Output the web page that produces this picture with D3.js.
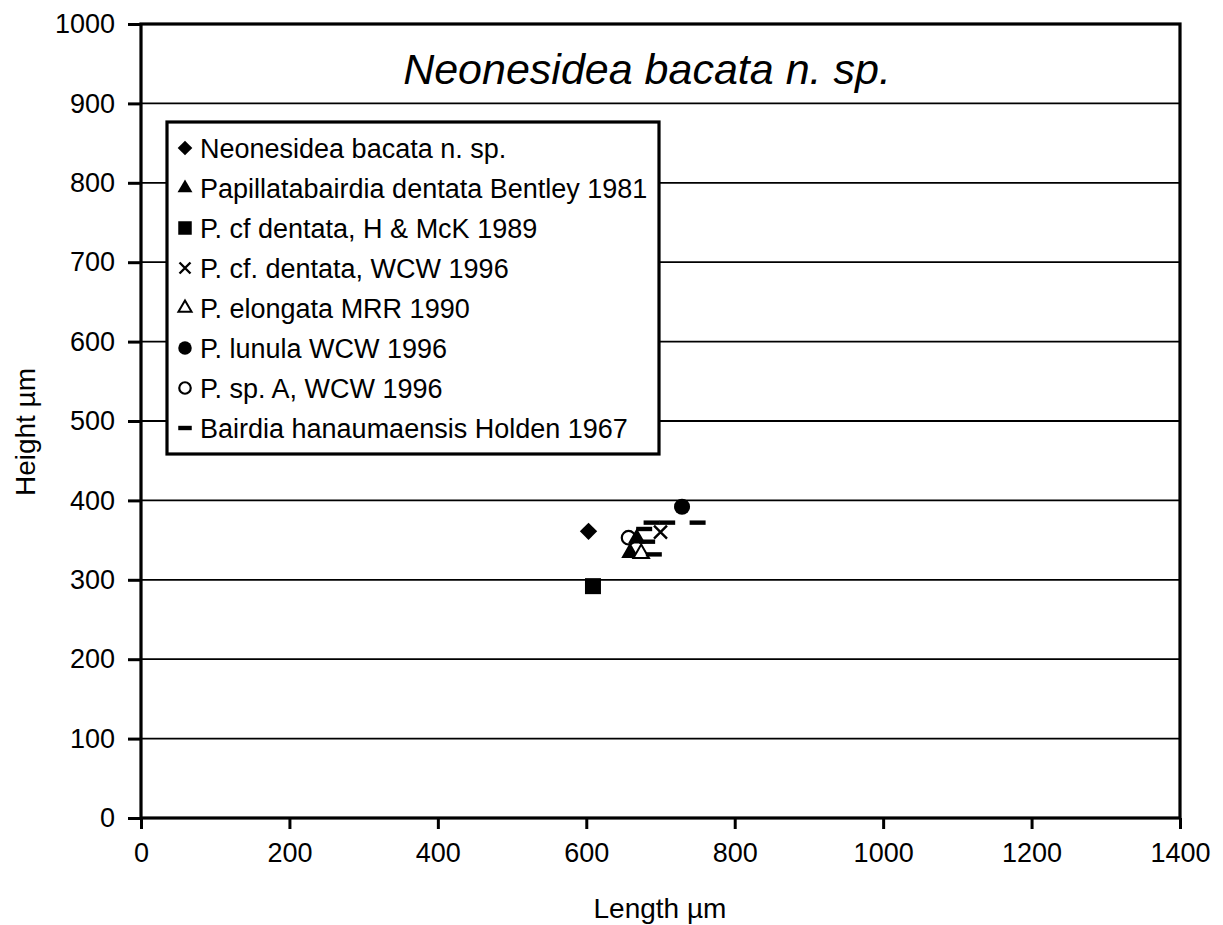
<!DOCTYPE html>
<html>
<head>
<meta charset="utf-8">
<script src="https://cdn.jsdelivr.net/npm/d3@7"></script>
<style>
  html, body { margin: 0; padding: 0; background: #fff; }
  svg { display: block; font-family: "Liberation Sans", Arial, sans-serif; }
</style>
</head>
<body>
<svg id="chart" width="1223" height="925"></svg>
<script>
// Length / height measurements (µm) of each taxon
const neonesidea       = [[603, 361]];
const papillatabairdia = [[668, 352], [659, 334]];
const cfDentataHMcK    = [[609, 292]];
const cfDentataWCW     = [[700, 360]];
const elongata         = [[674, 333]];
const lunula           = [[729, 392]];
const spA              = [[657, 353]];
const hanaumaensis     = [[688, 372], [709, 372], [750, 372], [678, 364], [682, 348], [691, 332]];

const seriesNames = [
  "Neonesidea bacata n. sp.",
  "Papillatabairdia dentata Bentley 1981",
  "P. cf dentata, H & McK 1989",
  "P. cf. dentata, WCW 1996",
  "P. elongata MRR 1990",
  "P. lunula WCW 1996",
  "P. sp. A, WCW 1996",
  "Bairdia hanaumaensis Holden 1967"
];
const seriesMarkers = ["diamond", "triangle", "square", "cross", "triangleOpen", "circle", "circleOpen", "dash"];
const seriesData = [neonesidea, papillatabairdia, cfDentataHMcK, cfDentataWCW, elongata, lunula, spA, hanaumaensis];

const xTicks = [0, 200, 400, 600, 800, 1000, 1200, 1400];
const yTicks = [0, 100, 200, 300, 400, 500, 600, 700, 800, 900, 1000];

const titleText = "Neonesidea bacata n. sp.";
const xLabel = "Length \u00b5m";
const yLabel = "Height \u00b5m";

// ---- layout ----
const plot = { left: 141, right: 1180, top: 24, bottom: 818 };
const svg = d3.select("#chart");

const x = d3.scaleLinear().domain([0, 1400]).range([plot.left, plot.right]);
const y = d3.scaleLinear().domain([0, 1000]).range([plot.bottom, plot.top]);

// horizontal gridlines
svg.append("g")
  .selectAll("line")
  .data(yTicks.slice(1, -1))
  .join("line")
  .attr("x1", plot.left).attr("x2", plot.right)
  .attr("y1", d => y(d)).attr("y2", d => y(d))
  .attr("stroke", "#000").attr("stroke-width", 1.8);

// y axis
const yAxis = svg.append("g")
  .attr("transform", `translate(${plot.left},0)`)
  .call(d3.axisLeft(y).tickValues(yTicks).tickSize(13).tickPadding(13).tickFormat(d3.format("d")));
yAxis.select(".domain").remove();
yAxis.selectAll(".tick line").attr("stroke", "#000").attr("stroke-width", 3);
yAxis.selectAll(".tick text")
  .attr("font-family", "Liberation Sans, Arial, sans-serif")
  .attr("font-size", 27).attr("fill", "#000");

// x axis
const xAxis = svg.append("g")
  .attr("transform", `translate(0,${plot.bottom})`)
  .call(d3.axisBottom(x).tickValues(xTicks).tickSize(11).tickPadding(14).tickFormat(d3.format("d")));
xAxis.select(".domain").remove();
xAxis.selectAll(".tick line").attr("stroke", "#000").attr("stroke-width", 3);
xAxis.selectAll(".tick text")
  .attr("font-family", "Liberation Sans, Arial, sans-serif")
  .attr("font-size", 27).attr("fill", "#000");

// plot frame
svg.append("rect")
  .attr("x", plot.left).attr("y", plot.top)
  .attr("width", plot.right - plot.left).attr("height", plot.bottom - plot.top)
  .attr("fill", "none").attr("stroke", "#000").attr("stroke-width", 3.2);

// title
svg.append("text")
  .attr("x", 647).attr("y", 84)
  .attr("text-anchor", "middle")
  .attr("font-size", 43).attr("font-style", "italic")
  .text(titleText);

// axis titles
svg.append("text")
  .attr("x", 660).attr("y", 918)
  .attr("text-anchor", "middle")
  .attr("font-size", 28)
  .text(xLabel);
svg.append("text")
  .attr("transform", "translate(35,432) rotate(-90)")
  .attr("text-anchor", "middle")
  .attr("font-size", 28)
  .text(yLabel);

// marker factory
function marker(sel, kind, s) {
  const k = s / 16;
  if (kind === "diamond") {
    sel.append("path").attr("d", d3.symbol(d3.symbolSquare, 150 * k * k)())
      .attr("transform", "rotate(45)").attr("fill", "#000");
  } else if (kind === "square") {
    sel.append("path").attr("d", d3.symbol(d3.symbolSquare, 256 * k * k)()).attr("fill", "#000");
  } else if (kind === "triangle") {
    sel.append("path").attr("d", d3.symbol(d3.symbolTriangle, 135 * k * k)()).attr("fill", "#000");
  } else if (kind === "triangleOpen") {
    sel.append("path").attr("d", d3.symbol(d3.symbolTriangle, 105 * k * k)())
      .attr("fill", "#fff").attr("stroke", "#000").attr("stroke-width", 2);
  } else if (kind === "circle") {
    sel.append("circle").attr("r", 8 * k).attr("fill", "#000");
  } else if (kind === "circleOpen") {
    sel.append("circle").attr("r", 6.8 * k).attr("fill", "none")
      .attr("stroke", "#000").attr("stroke-width", 2.2);
  } else if (kind === "cross") {
    const r = 6.5 * k;
    sel.append("path").attr("d", `M${-r},${-r}L${r},${r}M${-r},${r}L${r},${-r}`)
      .attr("stroke", "#000").attr("stroke-width", 2.4).attr("fill", "none");
  } else if (kind === "dash") {
    sel.append("rect").attr("x", -8 * k).attr("y", -2.2).attr("width", 16 * k).attr("height", 4.4)
      .attr("fill", "#000");
  }
}

// data points
const pts = svg.append("g");
seriesData.forEach((data, i) => {
  pts.append("g").selectAll("g")
    .data(data)
    .join("g")
    .attr("transform", d => `translate(${x(d[0])},${y(d[1])})`)
    .each(function () { marker(d3.select(this), seriesMarkers[i], 16); });
});

// legend
const legend = svg.append("g");
legend.append("rect")
  .attr("x", 167).attr("y", 122).attr("width", 492).attr("height", 332)
  .attr("fill", "#fff").attr("stroke", "#000").attr("stroke-width", 3.2);
seriesNames.forEach((name, i) => {
  const cy = 148 + i * 40;
  const g = legend.append("g").attr("transform", `translate(185,${cy})`);
  marker(g, seriesMarkers[i], 13.5);
  legend.append("text")
    .attr("x", 200).attr("y", cy + 9.5)
    .attr("font-size", 27)
    .text(name);
});
</script>
</body>
</html>
